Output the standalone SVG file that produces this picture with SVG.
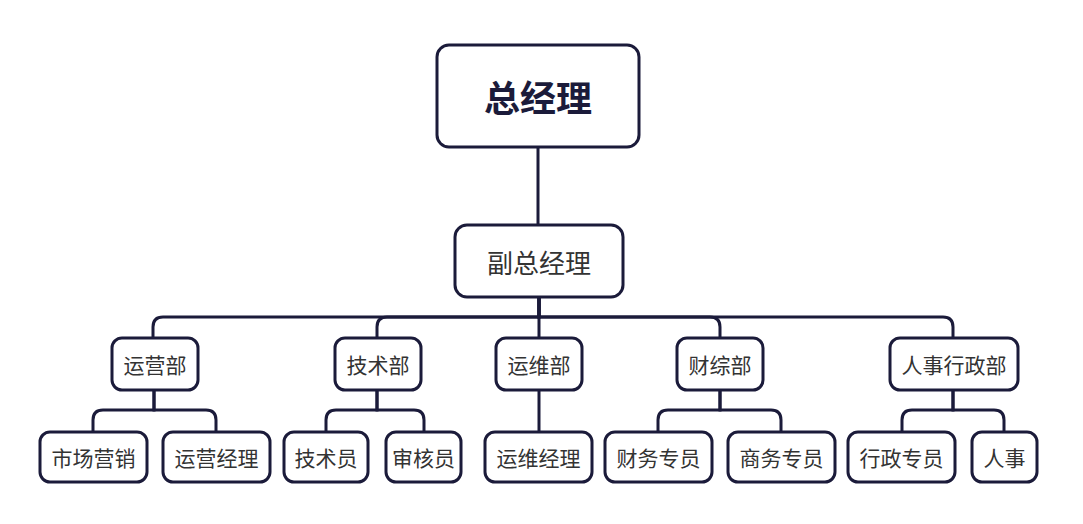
<svg xmlns="http://www.w3.org/2000/svg" width="1083" height="524" viewBox="0 0 1083 524">
<style>
.box{fill:#fff;stroke:#1b1b3a;stroke-width:3}
.c{fill:none;stroke:#1b1b3a;stroke-width:3}
text{font-family:"Microsoft YaHei","Noto Sans CJK SC",sans-serif;fill:#333;text-anchor:middle;dominant-baseline:central}
.t3{font-size:21px}
</style>
<rect width="1083" height="524" fill="#fff"/>
<g id="connectors">
<path class="c" d="M538 147V225"/>
<path class="c" d="M539 297V317H163Q153 317 153 327V338"/>
<path class="c" d="M539 297V317H387Q377 317 377 327V338"/>
<path class="c" d="M539 297V338"/>
<path class="c" d="M539 297V317H710Q720 317 720 327V338"/>
<path class="c" d="M539 297V317H943Q953 317 953 327V338"/>
<path class="c" d="M154 390V410H103Q93 410 93 420V432"/>
<path class="c" d="M154 390V410H206Q216 410 216 420V432"/>
<path class="c" d="M377 390V410H336Q326 410 326 420V432"/>
<path class="c" d="M377 390V410H414Q424 410 424 420V432"/>
<path class="c" d="M539 390V432"/>
<path class="c" d="M720 390V410H668Q658 410 658 420V432"/>
<path class="c" d="M720 390V410H771Q781 410 781 420V432"/>
<path class="c" d="M953 390V410H912Q902 410 902 420V432"/>
<path class="c" d="M953 390V410H994Q1004 410 1004 420V432"/>
</g>
<g id="n-gm"><rect class="box" x="437" y="45" width="202" height="102" rx="12"/><text x="538" y="96" style="font-size:36px;font-weight:bold;fill:#1b1b3a">总经理</text></g>
<g id="n-vgm"><rect class="box" x="455" y="225" width="168" height="72" rx="12"/><text x="539" y="261" style="font-size:26px">副总经理</text></g>
<g id="n-ops"><rect class="box" x="112" y="338" width="86" height="52" rx="10"/><text class="t3" x="155" y="364">运营部</text></g>
<g id="n-tech"><rect class="box" x="335" y="338" width="86" height="52" rx="10"/><text class="t3" x="378" y="364">技术部</text></g>
<g id="n-om"><rect class="box" x="496" y="338" width="86" height="52" rx="10"/><text class="t3" x="539" y="364">运维部</text></g>
<g id="n-fin"><rect class="box" x="677" y="338" width="86" height="52" rx="10"/><text class="t3" x="720" y="364">财综部</text></g>
<g id="n-hr"><rect class="box" x="890" y="338" width="128" height="52" rx="10"/><text class="t3" x="954" y="364">人事行政部</text></g>
<g id="n-mkt"><rect class="box" x="40" y="432" width="107" height="50" rx="10"/><text class="t3" x="93.5" y="457">市场营销</text></g>
<g id="n-opsm"><rect class="box" x="163" y="432" width="107" height="50" rx="10"/><text class="t3" x="216.5" y="457">运营经理</text></g>
<g id="n-techs"><rect class="box" x="284" y="432" width="84" height="50" rx="10"/><text class="t3" x="326" y="457">技术员</text></g>
<g id="n-rev"><rect class="box" x="386" y="432" width="75" height="50" rx="10"/><text class="t3" x="423.5" y="457">审核员</text></g>
<g id="n-omm"><rect class="box" x="485" y="432" width="107" height="50" rx="10"/><text class="t3" x="538.5" y="457">运维经理</text></g>
<g id="n-fins"><rect class="box" x="605" y="432" width="107" height="50" rx="10"/><text class="t3" x="658.5" y="457">财务专员</text></g>
<g id="n-biz"><rect class="box" x="728" y="432" width="107" height="50" rx="10"/><text class="t3" x="781.5" y="457">商务专员</text></g>
<g id="n-adm"><rect class="box" x="848" y="432" width="107" height="50" rx="10"/><text class="t3" x="901.5" y="457">行政专员</text></g>
<g id="n-pers"><rect class="box" x="972" y="432" width="65" height="50" rx="10"/><text class="t3" x="1004.5" y="457">人事</text></g>
</svg>
